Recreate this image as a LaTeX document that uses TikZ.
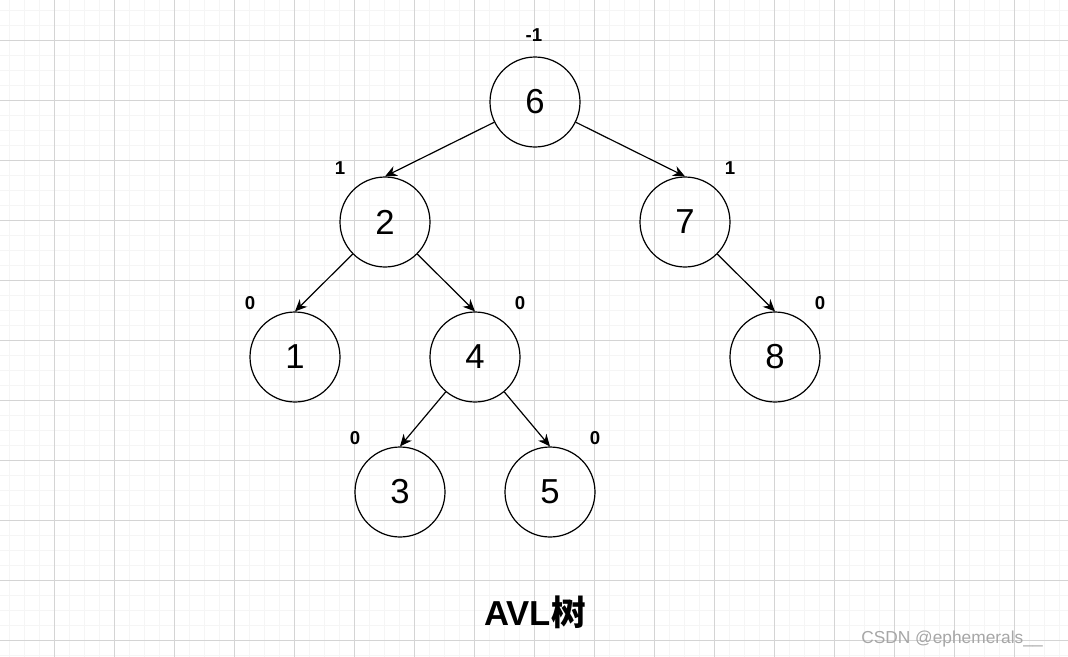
\documentclass[tikz,border=0pt]{standalone}
\usepackage{fontspec}
\setmainfont{Liberation Sans}
\newfontfamily\cjk{Noto Sans CJK SC}
\usetikzlibrary{arrows.meta}
\begin{document}
\begin{tikzpicture}[x=0.75pt,y=-0.75pt,
  tn/.style={circle,draw,line width=0.9pt,minimum size=67.5pt,inner sep=0pt,font=\fontsize{26}{30}\selectfont},
  bf/.style={font=\bfseries\fontsize{14}{16}\selectfont},
  ed/.style={-{Stealth[length=9pt,width=8pt]},line width=0.9pt}]
\useasboundingbox (0,0) rectangle (1068,657);
\begin{scope}[shift={(-6,-20)}]
\draw[black!4,line width=0.75pt] (0,0) grid[step=11.25pt] (1080,680);
\draw[black!17,line width=0.75pt] (0,0) grid[step=45pt] (1080,680);
\end{scope}
\node[tn] (n6) at (535,102) {6};
\node[tn] (n2) at (385,222) {2};
\node[tn] (n7) at (685,222) {7};
\node[tn] (n1) at (295,357) {1};
\node[tn] (n4) at (475,357) {4};
\node[tn] (n8) at (775,357) {8};
\node[tn] (n3) at (400,492) {3};
\node[tn] (n5) at (550,492) {5};
\draw[ed] (n6) -- (n2.north);
\draw[ed] (n6) -- (n7.north);
\draw[ed] (n2) -- (n1.north);
\draw[ed] (n2) -- (n4.north);
\draw[ed] (n7) -- (n8.north);
\draw[ed] (n4) -- (n3.north);
\draw[ed] (n4) -- (n5.north);
\node[bf] (b6) at (534,35) {-1};
\node[bf] (b2) at (340,168) {1};
\node[bf] (b7) at (730,168) {1};
\node[bf] (b1) at (250,303) {0};
\node[bf] (b4) at (520,303) {0};
\node[bf] (b8) at (820,303) {0};
\node[bf] (b3) at (355,438) {0};
\node[bf] (b5) at (595,438) {0};
\node[font=\bfseries\fontsize{26}{30}\selectfont] (title) at (535,612) {AVL{\cjk\bfseries 树}};
\node[text=black!35,font=\fontsize{13}{15}\selectfont] (wm) at (952,639) {CSDN @ephemerals\_\_};
\end{tikzpicture}
\end{document}
